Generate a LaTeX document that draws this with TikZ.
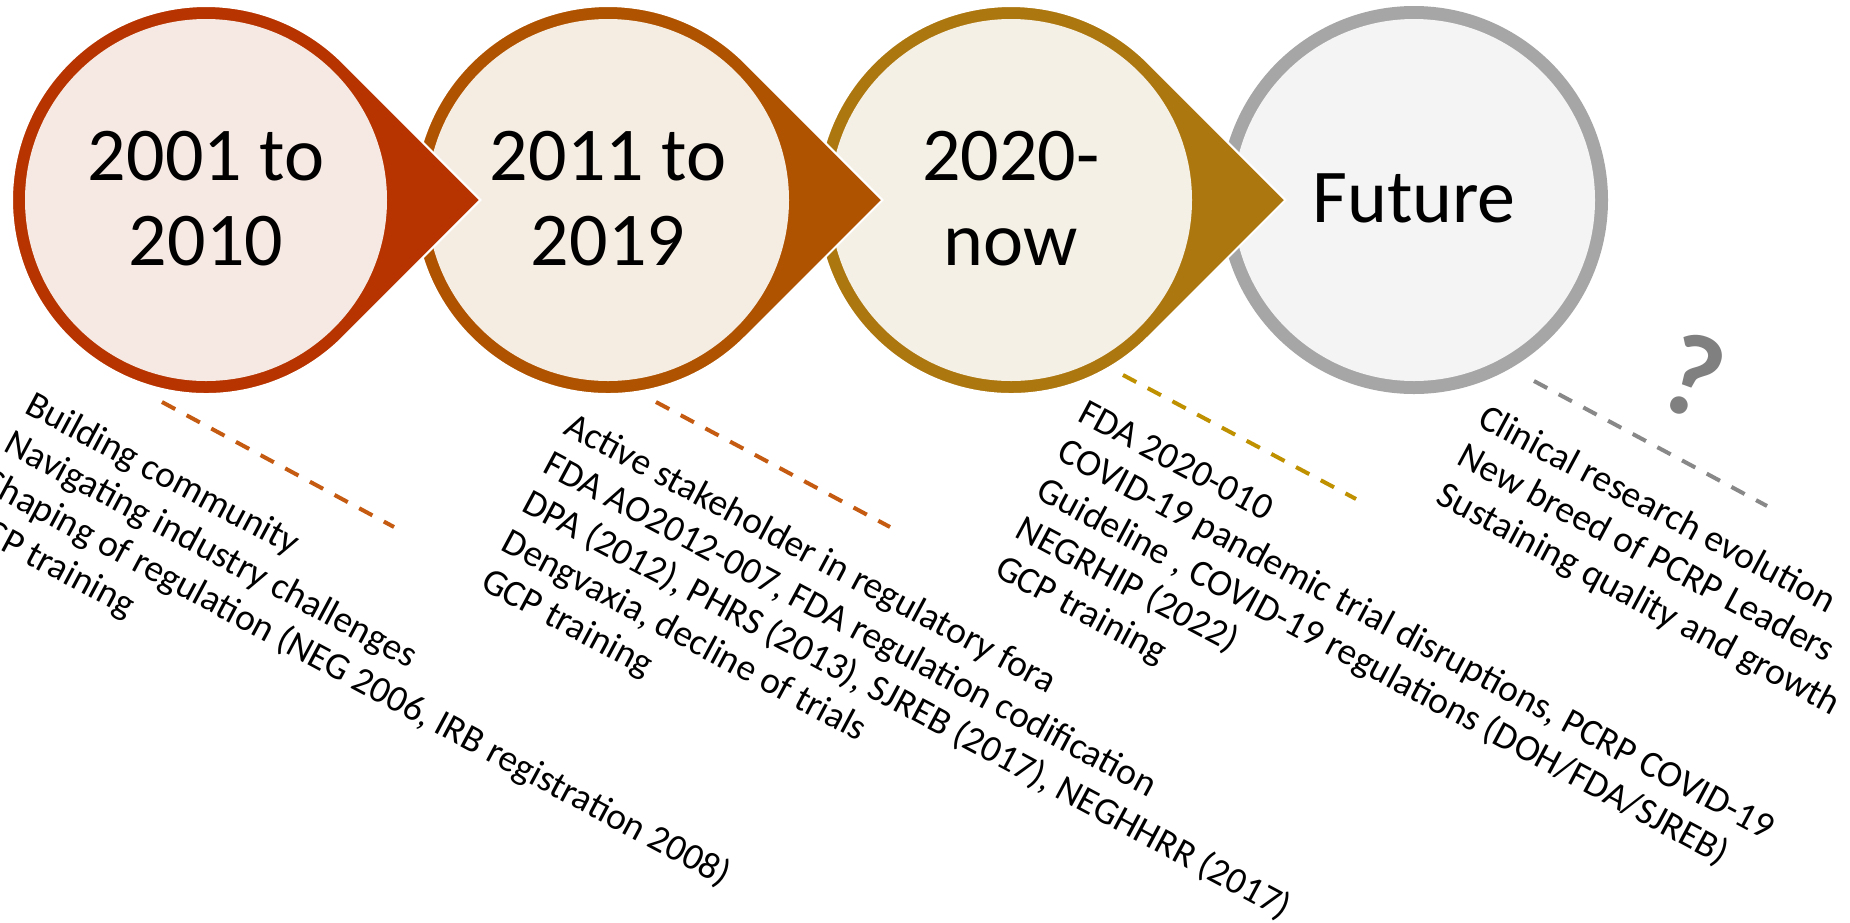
\documentclass[tikz,border=0pt]{standalone}
\usepackage{fontspec}
\setmainfont{Carlito}
\usetikzlibrary{calc}
\definecolor{ringA}{RGB}{183,52,0}
\definecolor{ringB}{RGB}{176,83,0}
\definecolor{ringC}{RGB}{173,119,15}
\definecolor{ringD}{RGB}{166,166,166}
\definecolor{fillA}{RGB}{246,232,226}
\definecolor{fillB}{RGB}{245,236,226}
\definecolor{fillC}{RGB}{245,240,229}
\definecolor{fillD}{RGB}{244,244,244}
\definecolor{dashA}{RGB}{197,90,17}
\definecolor{dashC}{RGB}{191,144,0}
\definecolor{dashD}{RGB}{136,136,136}
\definecolor{qgray}{RGB}{128,128,128}
\tikzset{
  yeartext/.style={align=center, inner sep=0pt, font=\fontsize{76}{85}\selectfont, text=black},
  linetext/.style={anchor=base west, inner sep=0pt, font=\fontsize{37.5}{44}\selectfont, rotate=-28.2},
  dashline/.style={line width=4pt, dash pattern=on 15pt off 13pt},
}
\begin{document}
\begin{tikzpicture}[x=1pt,y=1pt]
\useasboundingbox (0,0) rectangle (1850,-922);
\clip (0,0) rectangle (1850,-922);
\fill[white] (0,0) rectangle (1850,-922);
% Future circle
\fill[ringD] (1414,-200) circle[radius=194];
\fill[fillD] (1414,-200) circle[radius=181];
% teardrops, drawn right to left so each arrow lies over the next circle
\foreach \cx/\rc/\fc in {1011/ringC/fillC, 608/ringB/fillB, 206/ringA/fillA}{
  \filldraw[fill=\rc, draw=white, line width=2pt, line join=miter]
    (\cx+274.4,-200) -- (\cx+137.2,-337.2)
    arc[start angle=-45, end angle=-315, radius=194] -- cycle;
  \fill[\fc] (\cx,-200) circle[radius=181];
}
\node[yeartext] (y1) at (206,-199) {2001 to\\2010};
\node[yeartext] (y2) at (608,-199) {2011 to\\2019};
\node[yeartext] (y3) at (1011,-199) {2020-\\now};
\node[yeartext] (y4) at (1414,-198) {Future};
% dashed lines
\coordinate (d1a) at (162,-402); \coordinate (d1b) at (394,-527);
\coordinate (d2a) at (656,-402); \coordinate (d2b) at (890,-527);
\coordinate (d3a) at (1123,-375); \coordinate (d3b) at (1356,-499);
\coordinate (d4a) at (1534,-381); \coordinate (d4b) at (1767,-506);
\draw[dashline, dashA] (d1a) -- (d1b);
\draw[dashline, dashA] (d2a) -- (d2b);
\draw[dashline, dashC] (d3a) -- (d3b);
\draw[dashline, dashD] (d4a) -- (d4b);
% question mark
\node[font=\fontsize{118}{118}\selectfont\bfseries, text=qgray, rotate=-20, inner sep=0pt] (qm) at (1693,-376) {?};
% text blocks
\begin{scope}[shift={(23,-412)}, rotate=-28.2]
  \node[linetext] (a1) at (0,0) {Building community};
  \node[linetext] (a2) at (0,-44) {Navigating industry challenges};
  \node[linetext] (a3) at (0,-88) {Shaping of regulation (NEG 2006, IRB registration 2008)};
  \node[linetext] (a4) at (0,-132) {GCP training};
\end{scope}
\begin{scope}[shift={(562,-433)}, rotate=-28.2]
  \node[linetext] (b1) at (0,0) {Active stakeholder in regulatory fora};
  \node[linetext] (b2) at (0,-44) {FDA AO2012-007, FDA regulation codification};
  \node[linetext] (b3) at (0,-88) {DPA (2012), PHRS (2013), SJREB (2017), NEGHHRR (2017)};
  \node[linetext] (b4) at (0,-132) {Dengvaxia, decline of trials};
  \node[linetext] (b5) at (0,-176) {GCP training};
\end{scope}
\begin{scope}[shift={(1076,-420)}, rotate=-28.2]
  \node[linetext] (c1) at (0,0) {FDA 2020-010};
  \node[linetext] (c2) at (0,-44) {COVID-19 pandemic trial disruptions, PCRP COVID-19};
  \node[linetext] (c3) at (0,-88) {Guideline , COVID-19 regulations (DOH/FDA/SJREB)};
  \node[linetext] (c4) at (0,-132) {NEGRHIP (2022)};
  \node[linetext] (c5) at (0,-176) {GCP training};
\end{scope}
\begin{scope}[shift={(1476,-425)}, rotate=-28.2]
  \node[linetext] (e1) at (0,0) {Clinical research evolution};
  \node[linetext] (e2) at (0,-44) {New breed of PCRP Leaders};
  \node[linetext] (e3) at (0,-88) {Sustaining quality and growth};
\end{scope}
\end{tikzpicture}
\end{document}
